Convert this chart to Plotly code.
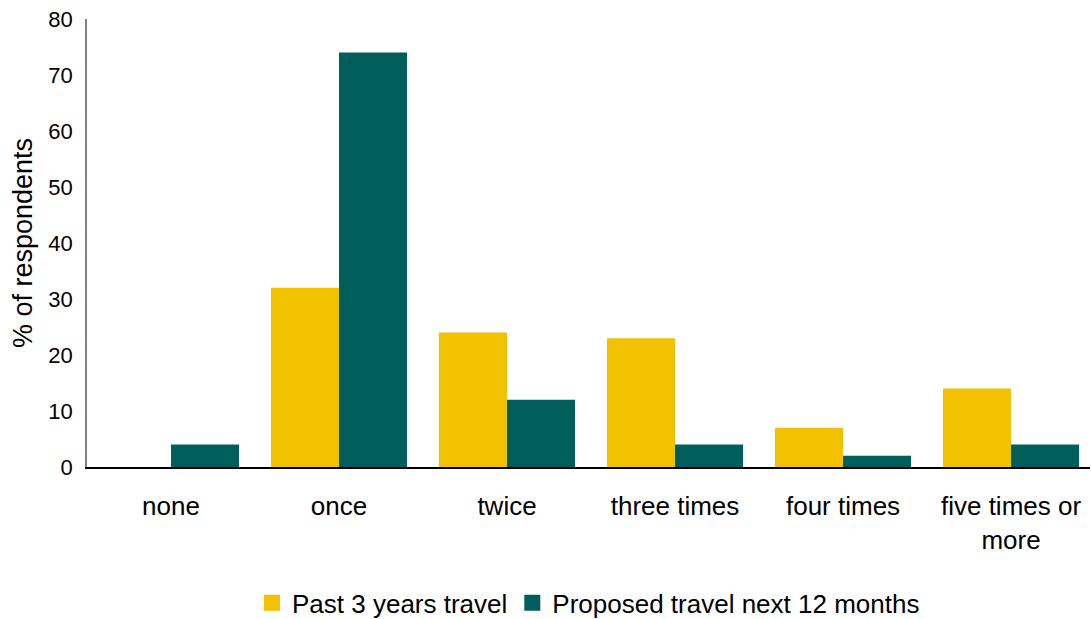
import plotly.graph_objects as go

categories = ["none", "once", "twice", "three times", "four times", "five times or<br>more"]
past_3_years = [0, 32, 24, 23, 7, 14]
proposed_12_months = [4, 74, 12, 4, 2, 4]
y_ticks = [0, 10, 20, 30, 40, 50, 60, 70, 80]
series_names = ["Past 3 years travel", "Proposed travel next 12 months"]
series_colors = ["#F2C200", "#005F5B"]

fig = go.Figure()
for vals, name, color in zip([past_3_years, proposed_12_months], series_names, series_colors):
    fig.add_trace(go.Bar(x=categories, y=vals, name=name, showlegend=False,
                         marker=dict(color=color, line=dict(width=0))))
# legend entries with larger square swatches
for name, color in zip(series_names, series_colors):
    fig.add_trace(go.Scatter(x=[None], y=[None], mode="markers", name=name,
                             marker=dict(symbol="square", size=17, color=color,
                                         line=dict(width=0))))

fig.update_layout(
    width=1091, height=619,
    barmode="group", bargap=0.19, bargroupgap=0,
    margin=dict(l=87, r=1, t=19, b=152),
    plot_bgcolor="white", paper_bgcolor="white",
    font=dict(family="Liberation Sans, Arial, sans-serif", color="#000000", size=22),
    showlegend=True,
    legend=dict(orientation="h", x=0.5, xanchor="center",
                yref="container", y=0.026, yanchor="middle",
                font=dict(size=26), itemwidth=30, itemsizing="trace",
                traceorder="normal"),
    xaxis=dict(showline=True, linecolor="#000000", linewidth=1.5, ticks="",
               range=[-0.5, 5.47], tickfont=dict(size=26), showgrid=False,
               ticklabelstandoff=15, automargin=False),
    yaxis=dict(range=[0, 80], tickvals=y_ticks, showline=True, linecolor="#808080",
               linewidth=1.5, ticks="", showgrid=False, zeroline=False,
               tickfont=dict(size=22), ticklabelstandoff=8, automargin=False,
               title=dict(text="% of respondents", font=dict(size=27), standoff=8)),
)

fig.write_html("out.html")
